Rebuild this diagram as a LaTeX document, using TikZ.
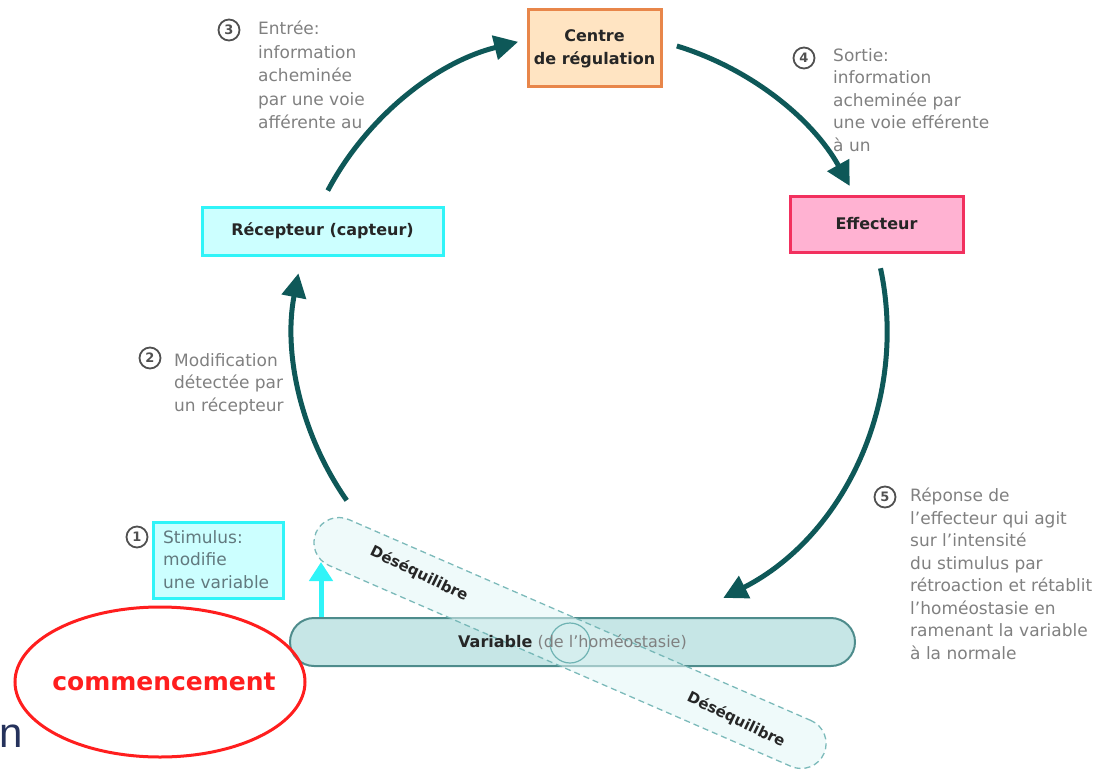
\documentclass[tikz,border=0pt]{standalone}
\usepackage{fontspec}
\setmainfont{DejaVu Sans}
\newfontfamily\libsans{Liberation Sans}
\usetikzlibrary{shapes.geometric,arrows.meta,calc}
\definecolor{flowc}{HTML}{0E5858}
\definecolor{graytxt}{HTML}{808080}
\definecolor{numc}{HTML}{505050}
\definecolor{orfill}{HTML}{FFE4C2}
\definecolor{ordraw}{HTML}{E8864A}
\definecolor{pkfill}{HTML}{FFB2D2}
\definecolor{pkdraw}{HTML}{F2305E}
\definecolor{cyfill}{HTML}{CCFFFF}
\definecolor{cydraw}{HTML}{30F4F8}
\definecolor{varfill}{HTML}{C6E6E6}
\definecolor{vardraw}{HTML}{4E8C8C}
\definecolor{desfill}{HTML}{E2F6F6}
\definecolor{desdraw}{HTML}{6FB3B3}
\definecolor{stimtxt}{HTML}{62797E}
\definecolor{redc}{HTML}{FF1E1E}
\definecolor{nc}{HTML}{25325C}
\tikzset{
  flow/.style={draw=flowc, line width=5pt, -{Triangle[length=24pt,width=24pt]}},
  boxlbl/.style={font=\fontsize{16}{23}\selectfont\bfseries, text=black!85, align=center, line width=3pt, inner sep=0pt},
  lbl/.style={font=\fontsize{17}{22.5}\selectfont, text=graytxt, align=left, anchor=north west, inner sep=0pt},
  numcirc/.style={circle, draw=numc, line width=1.8pt, text=numc, font=\fontsize{13}{13}\selectfont\bfseries, minimum size=21pt, inner sep=0pt},
  deslbl/.style={font=\fontsize{15}{15}\selectfont\bfseries, text=black!85, rotate=-26, inner sep=0pt}
}
\begin{document}
\begin{tikzpicture}[x=1pt,y=1pt]
\useasboundingbox (0,0) rectangle (1097,-773);

% boxes
\node[boxlbl, fill=orfill, draw=ordraw, minimum width=133pt, minimum height=77pt] (centre) at (594.5,-48.5) {Centre\\de régulation};
\node[boxlbl, fill=pkfill, draw=pkdraw, minimum width=173pt, minimum height=56pt] (effect) at (876.5,-224) {Effecteur};
\node[boxlbl, fill=cyfill, draw=cydraw, minimum width=241pt, minimum height=48pt] (recep) at (322.5,-231) {Récepteur (capteur)};

% variable band
\node[fill=varfill, draw=vardraw, line width=2pt, rounded corners=24pt, minimum width=565pt, minimum height=48pt, inner sep=0pt] (var) at (572.5,-642) {};

% desequilibre band
\node[fill=desfill, fill opacity=0.55, draw=desdraw, draw opacity=0.9, dashed, dash pattern=on 6pt off 4pt, line width=1.3pt, rounded corners=25pt, minimum width=554pt, minimum height=50pt, rotate=-23.5, inner sep=0pt] (deseq) at (570,-643) {};
\node[draw=desdraw, line width=1.2pt, circle, minimum size=40pt, inner sep=0pt] (mid) at (570,-643) {};

\node[font=\fontsize{16}{16}\selectfont, inner sep=0pt] (vartxt) at (var.center) {\textbf{\color{black!85}Variable} {\color{graytxt}(de l'homéostasie)}};

\node[deslbl] (des1) at (419,-574) {Déséquilibre};
\node[deslbl] (des2) at (736,-720) {Déséquilibre};

% stimulus box
\node[fill=cyfill, draw=cydraw, line width=3pt, minimum width=130pt, minimum height=76pt, inner sep=0pt] (stim) at (218,-560) {};
\node[lbl, text=stimtxt] (stimtxt) at (163,-530) {Stimulus:\\modifie\\une variable};

% numbered labels
\node[numcirc] (n1) at (137,-537) {1};
\node[numcirc] (n2) at (150,-358) {2};
\node[numcirc] (n3) at (229,-30) {3};
\node[numcirc] (n4) at (804,-58) {4};
\node[numcirc] (n5) at (885,-497) {5};

\node[lbl, font=\fontsize{17}{23.5}\selectfont] (t3) at (258,-21) {Entrée:\\information\\acheminée\\par une voie\\afférente au};
\node[lbl] (t4) at (833,-48) {Sortie:\\information\\acheminée par\\une voie efférente\\à un};
\node[lbl] (t2) at (174,-353) {Modification\\détectée par\\un récepteur};
\node[lbl] (t5) at (910,-488) {Réponse de\\l'effecteur qui agit\\sur l'intensité\\du stimulus par\\rétroaction et rétablit\\l'homéostasie en\\ramenant la variable\\à la normale};

% cycle arrows
\coordinate (C) at (590,-330);
\coordinate (a1s) at ($(C)+(152:297pt)$);
\coordinate (a2s) at ($(C)+(73:297pt)$);
\coordinate (a3s) at ($(C)+(12:297pt)$);
\coordinate (a4s) at ($(C)+(215:297pt)$);
\draw[flow] (a1s) arc[start angle=152, end angle=104, radius=297pt];
\draw[flow] (a2s) arc[start angle=73, end angle=29, radius=297pt];
\draw[flow] (a3s) arc[start angle=12, end angle=-63, radius=300pt];
\draw[flow] (a4s) arc[start angle=215, end angle=169, radius=297pt];

% cyan arrow
\coordinate (cyb) at (321,-617);
\coordinate (cyt) at (321,-562);
\draw[draw=cydraw, line width=5pt, -{Triangle[length=19pt,width=23pt]}] (cyb) -- (cyt);

% commencement
\node[ellipse, draw=redc, line width=3pt, minimum width=290pt, minimum height=150pt, inner sep=0pt] (start) at (160,-682) {};
\node[text=redc, font=\fontsize{25}{25}\selectfont\bfseries, inner sep=0pt] (starttxt) at (164,-682) {commencement};

% stray n
\node[anchor=base west, inner sep=0pt, text=nc, font=\libsans\fontsize{42}{42}\selectfont] (nn) at (-1,-747) {n};
\end{tikzpicture}
\end{document}
